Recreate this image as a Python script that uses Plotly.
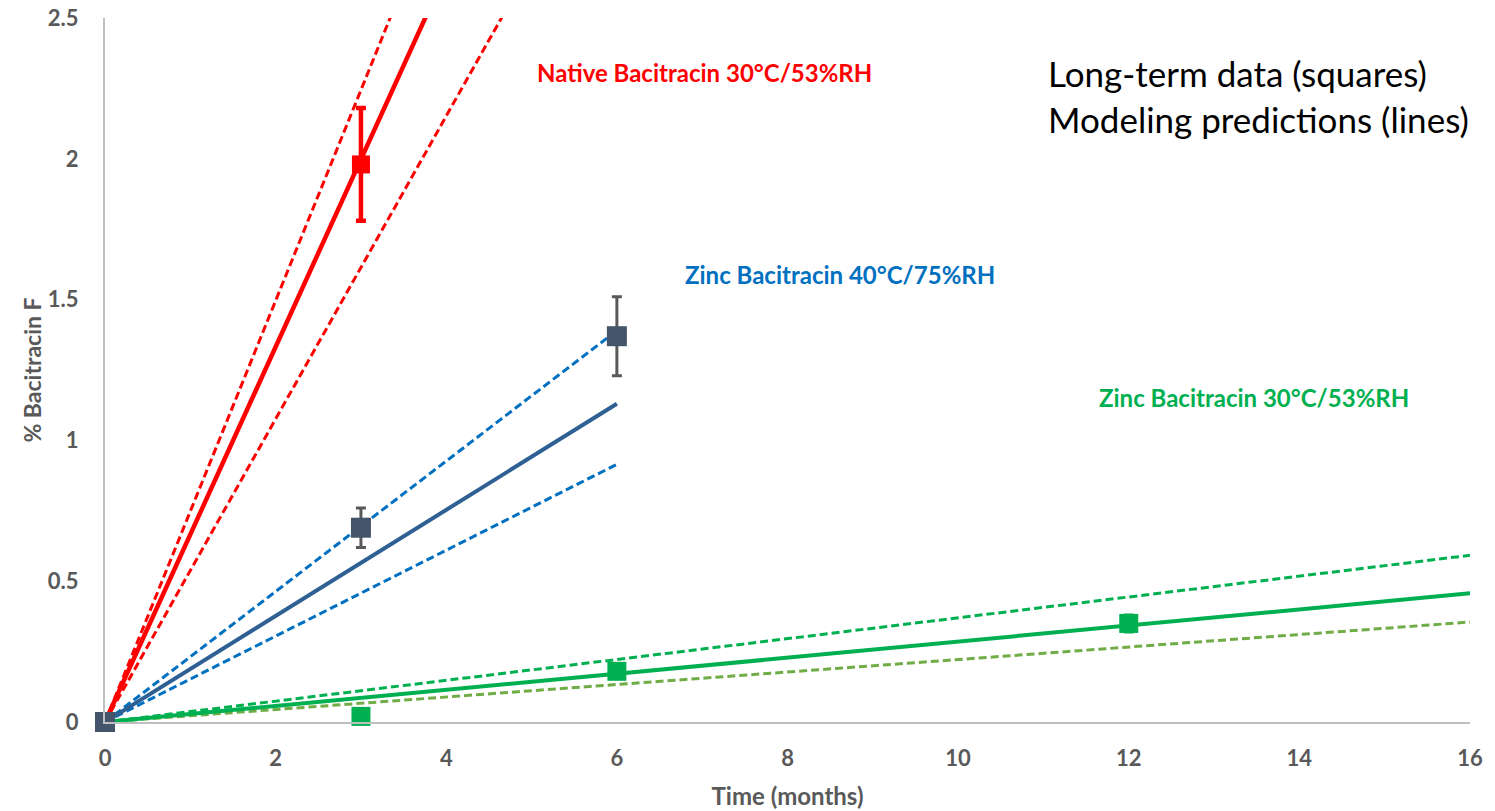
import plotly.graph_objects as go

# ---- data ----
months_native = [3]
native_obs = [1.98]
native_err = [0.20]

months_zinc40 = [0, 3, 6]
zinc40_obs = [0.0, 0.69, 1.37]
zinc40_err = [0.0, 0.07, 0.14]

months_zinc30 = [0, 3, 6, 12]
zinc30_obs = [0.0, 0.02, 0.18, 0.35]
zinc30_err = [0.0, 0.0, 0.0, 0.03]

native_model_x = [0, 5]
native_model = [0, 3.33]
native_upper = [0, 3.74]
native_lower = [0, 2.69]

zinc40_model_x = [0, 6]
zinc40_model = [0, 1.13]
zinc40_upper = [0, 1.39]
zinc40_lower = [0, 0.915]

zinc30_model_x = [0, 16]
zinc30_model = [0, 0.457]
zinc30_upper = [0, 0.592]
zinc30_lower = [0, 0.355]

x_ticks = [0, 2, 4, 6, 8, 10, 12, 14, 16]
y_ticks = [0, 0.5, 1, 1.5, 2, 2.5]
y_tick_labels = ["0", "0.5", "1", "1.5", "2", "2.5"]

RED = "#FF0000"
BLUE_D = "#0070C0"
BLUE_S = "#2E6094"
GREEN = "#00B050"
GREEN_L = "#70AD47"
SLATE = "#44546A"
GRAY = "#595959"
DASH = "8px,4px"

fig = go.Figure()

def line(x, y, color, width, dash=None):
    fig.add_trace(go.Scatter(x=x, y=y, mode="lines",
                             line=dict(color=color, width=width, dash=dash),
                             showlegend=False, hoverinfo="skip"))

# green model lines
line(zinc30_model_x, zinc30_upper, GREEN, 3, DASH)
line(zinc30_model_x, zinc30_lower, GREEN_L, 3, DASH)
line(zinc30_model_x, zinc30_model, GREEN, 4)
# blue model lines
line(zinc40_model_x, zinc40_upper, BLUE_D, 3, DASH)
line(zinc40_model_x, zinc40_lower, BLUE_D, 3, DASH)
line(zinc40_model_x, zinc40_model, BLUE_S, 4)
# red model lines
line(native_model_x, native_upper, RED, 3, DASH)
line(native_model_x, native_lower, RED, 3, DASH)
line(native_model_x, native_model, RED, 4.5)

# observed data
fig.add_trace(go.Scatter(x=months_zinc30, y=zinc30_obs, mode="markers",
                         marker=dict(symbol="square", size=19, color=GREEN),
                         error_y=dict(type="data", array=zinc30_err, color=GREEN,
                                      thickness=3, width=5),
                         cliponaxis=False, showlegend=False))
fig.add_trace(go.Scatter(x=months_native, y=native_obs, mode="markers",
                         marker=dict(symbol="square", size=18, color=RED),
                         error_y=dict(type="data", array=native_err, color=RED,
                                      thickness=4.5, width=5),
                         cliponaxis=False, showlegend=False))
fig.add_trace(go.Scatter(x=months_zinc40, y=zinc40_obs, mode="markers",
                         marker=dict(symbol="square", size=20, color=SLATE),
                         error_y=dict(type="data", array=zinc40_err, color=GRAY,
                                      thickness=3, width=5),
                         cliponaxis=False, showlegend=False))

FONT = "Lato"
annos = [
    dict(x=7.03, y=2.308, text="<b>Native Bacitracin 30°C/53%RH</b>",
         font=dict(color=RED, size=24, family=FONT), xanchor="center"),
    dict(x=8.62, y=1.59, text="<b>Zinc Bacitracin 40°C/75%RH</b>",
         font=dict(color=BLUE_D, size=24, family=FONT), xanchor="center"),
    dict(x=13.47, y=1.152, text="<b>Zinc Bacitracin 30°C/53%RH</b>",
         font=dict(color=GREEN, size=24, family=FONT), xanchor="center"),
    dict(x=11.03, y=2.305, text="Long-term data (squares)",
         font=dict(color="black", size=35, family=FONT), xanchor="left"),
    dict(x=11.03, y=2.14, text="Modeling predictions (lines)",
         font=dict(color="black", size=35, family=FONT), xanchor="left"),
]
for a in annos:
    fig.add_annotation(xref="x", yref="y", showarrow=False, yanchor="middle", **a)

fig.update_layout(
    width=1495, height=811,
    margin=dict(l=105, r=25, t=18, b=89),
    plot_bgcolor="white", paper_bgcolor="white",
    font=dict(family=FONT, color=GRAY),
    xaxis=dict(range=[0, 16], tickvals=x_ticks, showgrid=False, zeroline=False,
               showline=True, linecolor="#BFBFBF", linewidth=2, ticks="",
               ticklabelstandoff=16, automargin=False,
               tickfont=dict(size=22, color=GRAY, family=FONT, weight="bold"),
               title=dict(text="<b>Time (months)</b>", font=dict(size=24, color=GRAY, family=FONT),
                          standoff=18)),
    yaxis=dict(range=[0, 2.5], tickvals=y_ticks, ticktext=y_tick_labels,
               showgrid=False, zeroline=False,
               showline=True, linecolor="#BFBFBF", linewidth=2, ticks="",
               ticklabelstandoff=20, automargin=False,
               tickfont=dict(size=22, color=GRAY, family=FONT, weight="bold"),
               title=dict(text="<b>% Bacitracin F</b>", font=dict(size=23, color=GRAY, family=FONT),
                          standoff=0)),
)

fig.write_html("out.html")
